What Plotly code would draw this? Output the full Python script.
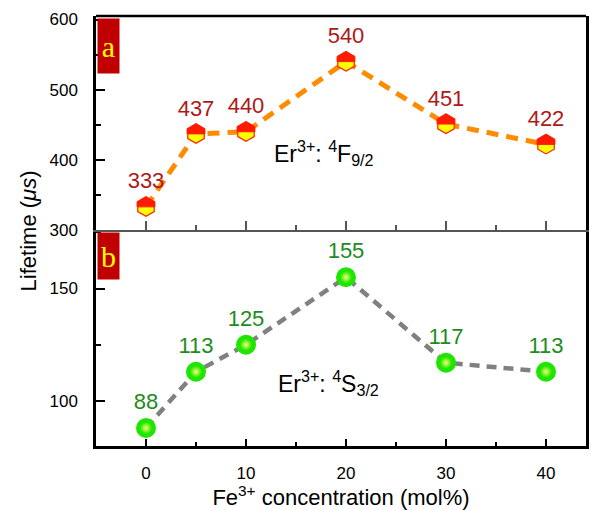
import math
import plotly.graph_objects as go

conc = [0, 5, 10, 20, 30, 40]
life_F = [333, 437, 440, 540, 451, 422]
life_S = [88, 113, 125, 155, 117, 113]
x_ticks = [0, 10, 20, 30, 40]
yF_ticks = [300, 400, 500, 600]
yS_ticks = [100, 150]

FONT = "Liberation Sans"
NARROW = "Liberation Sans Narrow, Liberation Sans"

W, H = 592, 510
M = dict(l=96, r=3, t=16, b=64)
split = 0.5023
x_range = [-5, 44]
yF_range = [300, 605]
yS_range = [80, 176]

# pixel -> data scales (for the red upper half of the hexagon markers)
plot_w = W - M["l"] - M["r"]
plot_h = H - M["t"] - M["b"]
ux = (x_range[1] - x_range[0]) / plot_w
uy = (yF_range[1] - yF_range[0]) / (plot_h * (1 - split))
HEX_SIZE = 19
r1 = 1.09 * HEX_SIZE / 2
rs = r1 * math.sqrt(3) / 2
r2 = r1 / 2
half = [(-rs, 0), (-rs, r2), (0, r1), (rs, r2), (rs, 0), (-rs, 0)]
hx, hy = [], []
for xv, yv in zip(conc, life_F):
    for px, py in half:
        hx.append(xv + px * ux)
        hy.append(yv + py * uy)
    hx.append(None)
    hy.append(None)

GREEN = "#1ee600"

fig = go.Figure()

fig.add_trace(go.Scatter(
    x=conc, y=life_F, xaxis="x2", yaxis="y2", mode="lines",
    line=dict(color="#ff8c00", width=5, dash="12px,8px"),
    showlegend=False, hoverinfo="skip"))
fig.add_trace(go.Scatter(
    x=conc, y=life_F, xaxis="x2", yaxis="y2", mode="markers+text",
    marker=dict(symbol="hexagon", size=HEX_SIZE, color="#ffff00",
                line=dict(color="#ff2000", width=1.2)),
    text=[str(v) for v in life_F], textposition="top center",
    textfont=dict(family=NARROW, size=22, color="#b01818"),
    cliponaxis=False, showlegend=False))
fig.add_trace(go.Scatter(
    x=hx, y=hy, xaxis="x2", yaxis="y2", mode="lines", fill="toself",
    fillcolor="#ff1a00", line=dict(color="#ff2000", width=1),
    showlegend=False, hoverinfo="skip"))

fig.add_trace(go.Scatter(
    x=conc, y=life_S, xaxis="x", yaxis="y", mode="lines",
    line=dict(color="#808080", width=4.5, dash="10px,7px"),
    showlegend=False, hoverinfo="skip"))
fig.add_trace(go.Scatter(
    x=conc, y=life_S, xaxis="x", yaxis="y", mode="markers+text",
    marker=dict(symbol="circle", size=20, color=GREEN, line=dict(width=0)),
    text=[str(v) for v in life_S], textposition="top center",
    textfont=dict(family=NARROW, size=22, color="#1e8c1e"),
    cliponaxis=False, showlegend=False))
# highlight on the spheres
fig.add_trace(go.Scatter(
    x=conc, y=life_S, xaxis="x", yaxis="y", mode="markers",
    marker=dict(symbol="circle", size=12, color=GREEN,
                gradient=dict(type="radial", color="#f6ff70"), line=dict(width=0)),
    showlegend=False, hoverinfo="skip"))

tickfont = dict(family=FONT, size=17, color="black")
gray = "#555555"

fig.update_layout(
    width=W, height=H,
    margin=M,
    paper_bgcolor="white", plot_bgcolor="white",
    font=dict(family=FONT, color="black"),
    xaxis=dict(domain=[0, 1], anchor="y", range=x_range, tickvals=x_ticks,
               ticks="inside", ticklen=7, tickwidth=2, tickcolor="black",
               showline=True, linecolor="black", linewidth=2.5,
               minor=dict(dtick=5, tick0=0, ticks="inside", ticklen=4, tickwidth=2, tickcolor="black"),
               showgrid=False, zeroline=False, tickfont=tickfont, ticklabelstandoff=10,
               title=dict(text="Fe<sup>3+</sup> concentration (mol%)",
                          font=dict(family=FONT, size=22), standoff=4)),
    xaxis2=dict(domain=[0, 1], anchor="y2", matches="x", range=x_range, tickvals=x_ticks,
                ticks="inside", ticklen=9, tickwidth=1.5, tickcolor=gray,
                showline=True, linecolor=gray, linewidth=1.5,
                minor=dict(dtick=5, tick0=0, ticks="inside", ticklen=5, tickwidth=1.5, tickcolor=gray),
                showgrid=False, zeroline=False, showticklabels=False),
    xaxis3=dict(overlaying="x", anchor="y", side="top", range=x_range, tickvals=x_ticks,
                ticks="inside", ticklen=9, tickwidth=1.5, tickcolor=gray,
                showline=True, linecolor=gray, linewidth=1.5,
                minor=dict(dtick=5, tick0=0, ticks="inside", ticklen=5, tickwidth=1.5, tickcolor=gray),
                showgrid=False, zeroline=False, showticklabels=False),
    yaxis=dict(domain=[0, split], anchor="x", range=yS_range, tickvals=yS_ticks,
               ticks="inside", ticklen=9, tickwidth=2, tickcolor="black",
               showline=True, linecolor="black", linewidth=2.5, mirror=True,
               minor=dict(dtick=25, tick0=0, ticks="inside", ticklen=5, tickwidth=2, tickcolor="black"),
               showgrid=False, zeroline=False, tickfont=tickfont, ticklabelstandoff=12),
    yaxis2=dict(domain=[split, 1], anchor="x2", range=yF_range, tickvals=yF_ticks,
                ticks="inside", ticklen=9, tickwidth=2, tickcolor="black",
                showline=True, linecolor="black", linewidth=2.5, mirror=True,
                minor=dict(dtick=50, tick0=0, ticks="inside", ticklen=5, tickwidth=2, tickcolor="black"),
                showgrid=False, zeroline=False, tickfont=tickfont, ticklabelstandoff=12),
    shapes=[dict(type="line", xref="paper", yref="paper", x0=0, x1=1, y0=1, y1=1,
                 line=dict(color="black", width=2.5))],
)

annotations = [
    dict(text="a", xref="paper", yref="paper", x=0.002, y=0.995, xanchor="left", yanchor="top",
         width=21, height=54, bgcolor="#c00000", borderpad=0, showarrow=False,
         font=dict(family="Liberation Serif, DejaVu Serif, serif", size=30, color="#ffff00")),
    dict(text="b", xref="paper", yref="paper", x=0.002, y=split - 0.004, xanchor="left", yanchor="top",
         width=21, height=46, bgcolor="#c00000", borderpad=0, showarrow=False,
         font=dict(family="Liberation Serif, DejaVu Serif, serif", size=30, color="#ffff00")),
    dict(text="Er<sup>3+</sup>: <sup>4</sup>F<sub>9/2</sub>", xref="x2", yref="y2", x=17.8, y=410,
         showarrow=False, font=dict(family=FONT, size=23, color="black")),
    dict(text="Er<sup>3+</sup>: <sup>4</sup>S<sub>3/2</sub>", xref="x", yref="y", x=18.2, y=108,
         showarrow=False, font=dict(family=FONT, size=23, color="black")),
    dict(text="Lifetime (<i>μs</i>)", xref="paper", yref="paper", x=-0.138, y=0.5,
         xanchor="center", yanchor="middle", textangle=-90, showarrow=False,
         font=dict(family=FONT, size=22, color="black")),
]
fig.update_layout(annotations=annotations)

fig.write_html("out.html")
